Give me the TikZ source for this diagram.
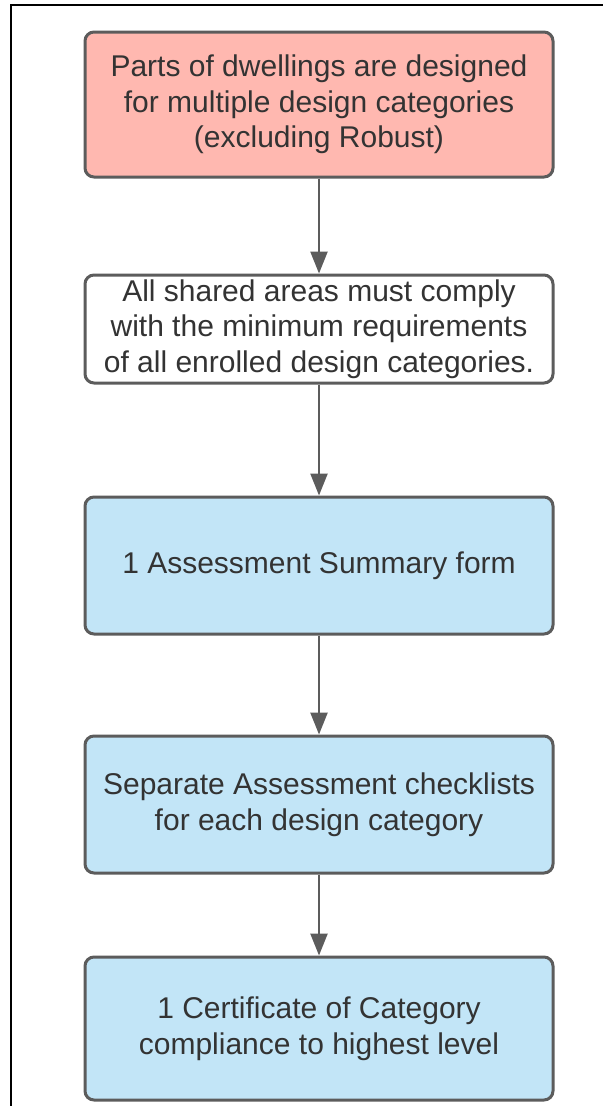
\documentclass[tikz,border=0pt]{standalone}
\usepackage{fontspec}
\setmainfont{Liberation Sans}
\usetikzlibrary{arrows.meta}
\definecolor{edgegray}{HTML}{5C5C5C}
\definecolor{txtgray}{HTML}{333333}
\definecolor{redfill}{HTML}{FFB8B0}
\definecolor{bluefill}{HTML}{C2E5F7}
\begin{document}
\begin{tikzpicture}[x=1pt,y=-1pt,
  box/.style={draw=edgegray, line width=3pt, rounded corners=9pt,
    minimum width=468pt, inner sep=0pt, align=center, text=txtgray,
    font=\fontsize{30}{35.5}\selectfont},
  arr/.style={draw=edgegray, line width=2.5pt, -{Triangle[width=17pt,length=22pt]}},
  frameline/.style={draw=black, line width=2.5pt}]
\useasboundingbox (0,0) rectangle (603,1106);
\draw[frameline] (11,1106) -- (11,5) -- (603,5);
\node[box, fill=redfill, minimum height=145pt] (b1) at (319,104.5)
  {Parts of dwellings are designed\\for multiple design categories\\(excluding Robust)};
\node[box, fill=white, minimum height=108pt] (b2) at (319,329)
  {All shared areas must comply\\with the minimum requirements\\of all enrolled design categories.};
\node[box, fill=bluefill, minimum height=137pt] (b3) at (319,565.5)
  {1 Assessment Summary form};
\node[box, fill=bluefill, minimum height=137pt] (b4) at (319,804.5)
  {Separate Assessment checklists\\for each design category};
\node[box, fill=bluefill, minimum height=143pt] (b5) at (319,1028.5)
  {1 Certificate of Category\\compliance to highest level};
\draw[arr] (b1) -- (b2);
\draw[arr] (b2) -- (b3);
\draw[arr] (b3) -- (b4);
\draw[arr] (b4) -- (b5);
\end{tikzpicture}
\end{document}
